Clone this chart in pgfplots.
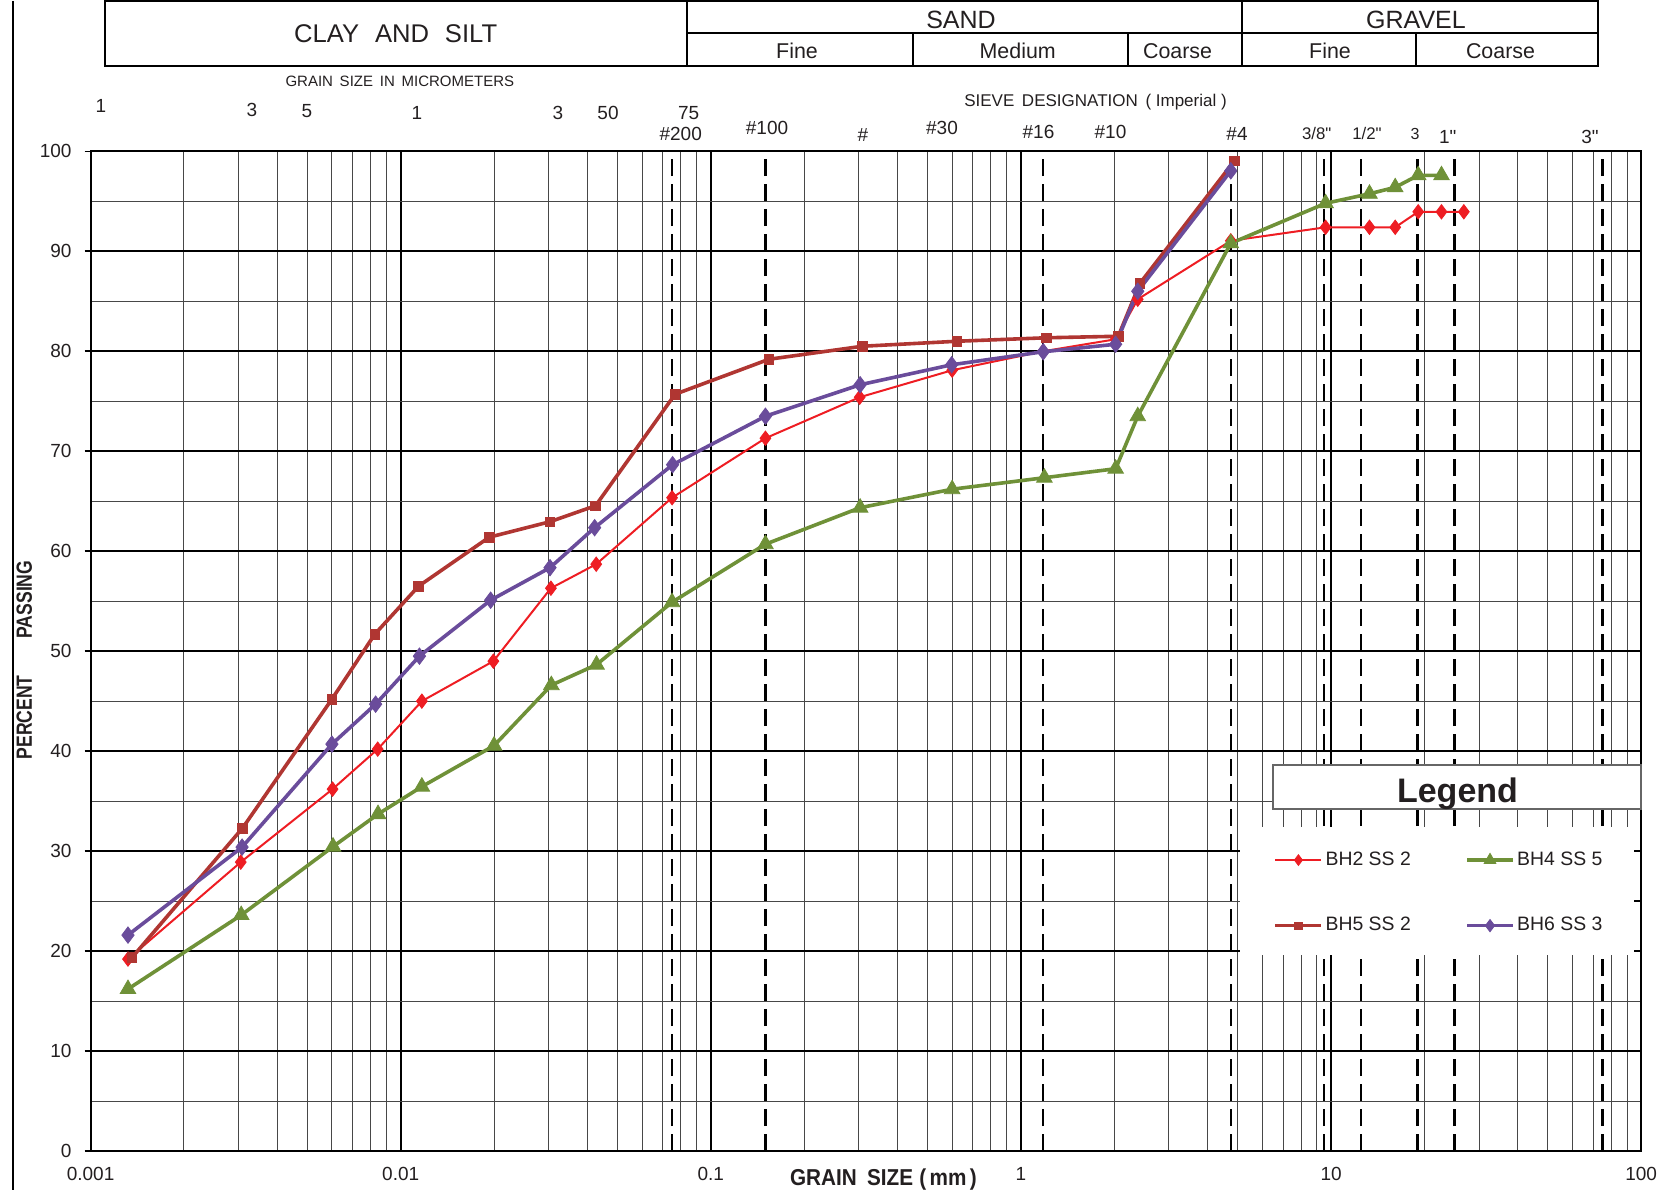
\documentclass[border=0pt]{standalone}
\usepackage{pgfplots}
\pgfplotsset{compat=1.18}
\usepackage{fontspec}
\setmainfont{Liberation Sans}[Ligatures=TeXOff]
\usepackage{graphicx}

\definecolor{cRed}{HTML}{EE1D23}
\definecolor{cBrown}{HTML}{B03632}
\definecolor{cGreen}{HTML}{6F9138}
\definecolor{cPurple}{HTML}{6A4C9B}
\definecolor{txt}{HTML}{231F20}

\newcommand{\fs}[1]{\fontsize{#1}{#1}\selectfont}

\begin{document}
\begin{tikzpicture}
\begin{scope}[x=0.5pt,y=-0.5pt]
\useasboundingbox (0,0) rectangle (1671,1191);
\end{scope}

\begin{axis}[
  at={(45.3pt,-575.5pt)}, anchor=south west,
  scale only axis, width=775.3pt, height=499.85pt,
  xmode=log, xmin=0.001, xmax=100, ymin=0, ymax=100,
  axis line style={black, line width=1pt},
  xtick={0.001,0.01,0.1,1,10,100},
  xticklabels={0.001,0.01,0.1,1,10,100},
  minor xtick={0.002,0.003,0.004,0.005,0.006,0.007,0.008,0.009,
               0.02,0.03,0.04,0.05,0.06,0.07,0.08,0.09,
               0.2,0.3,0.4,0.5,0.6,0.7,0.8,0.9,
               2,3,4,5,6,7,8,9,
               20,30,40,50,60,70,80,90},
  ytick={0,10,20,30,40,50,60,70,80,90,100},
  yticklabels={0,10,20,30,40,50,60,70,80,90,100},
  minor ytick={5,15,25,35,45,55,65,75,85,95},
  grid=both,
  major grid style={black, line width=0.9pt},
  minor grid style={black!72, line width=0.45pt},
  tick align=outside, ytick pos=left, xtick pos=bottom,
  major tick length=3pt, minor tick length=0pt,
  xtick style={draw=none},
  ytick style={black, line width=0.8pt},
  ticklabel style={font=\fs{9.5}, text=txt},
  xticklabel style={yshift=-1.5pt},
  yticklabel style={xshift=-3pt},
  extra x ticks={0.075,0.15,1.18,4.75,9.5,12.5,19,25,75},
  extra x tick labels={},
  extra x tick style={grid=major, major grid style={black, line width=1.1pt, dash pattern=on 8.5pt off 4pt}, major tick length=0pt},
  legend columns=2,
  legend cell align=left,
  legend style={at={(0.7627,0.3017)}, anchor=north west, draw=none, fill=none,
    inner sep=0pt, font=\fs{9.7}, text=txt, row sep=22.5pt,
    nodes={inner xsep=1.2pt, inner ysep=1pt},
    /tikz/every even column/.append style={column sep=26pt}},
  legend image code/.code={\draw[mark repeat=2, mark phase=2, #1, every mark/.append style={scale=0.75}] plot coordinates {(0pt,0pt) (11.5pt,0pt) (23pt,0pt)};},
]

\fill[white] (rel axis cs:0.7414,0.1961) rectangle (rel axis cs:0.9994,0.3244);
\draw[black, line width=0.8pt] (rel axis cs:1,0.20) -- ++(-3.8pt,0pt);
\draw[black, line width=0.8pt] (rel axis cs:1,0.25) -- ++(-3.8pt,0pt);
\draw[black, line width=0.8pt] (rel axis cs:1,0.30) -- ++(-3.8pt,0pt);

% BH2 SS 2
\addplot[color=cRed, line width=1pt, mark=diamond*, mark size=3.6pt,
  mark options={solid, fill=cRed, draw=cRed, line width=0.4pt}] coordinates {
(0.00132,19.2) (0.00305,28.9) (0.00603,36.2) (0.00843,40.2) (0.0117,45.0)
(0.0199,49.0) (0.0305,56.3) (0.0427,58.7) (0.0750,65.35) (0.150,71.3)
(0.302,75.4) (0.600,78.1) (1.18,80.0) (2.02,81.2) (2.38,85.2) (4.75,91.05)
(9.6,92.4) (13.3,92.4) (16.1,92.4) (19.1,93.95) (22.7,93.95) (26.8,93.95)
};
\addlegendentry{BH2 SS 2}

% BH4 SS 5
\addplot[color=cGreen, line width=1.8pt, mark=triangle*, mark size=4.5pt,
  mark options={solid, fill=cGreen, draw=cGreen, line width=0.4pt}] coordinates {
(0.00132,16.2) (0.00306,23.6) (0.00605,30.45) (0.00845,33.7) (0.0117,36.45)
(0.0200,40.55) (0.0306,46.6) (0.0428,48.65) (0.0750,54.9) (0.150,60.7)
(0.303,64.35) (0.600,66.2) (1.19,67.35) (2.02,68.25) (2.38,73.5) (4.75,90.8)
(9.6,94.8) (13.3,95.75) (16.1,96.4) (19.1,97.6) (22.7,97.6)
};
\addlegendentry{BH4 SS 5}

% BH5 SS 2
\addplot[color=cBrown, line width=1.8pt, mark=square*, mark size=2.4pt,
  mark options={solid, fill=cBrown, draw=cBrown, line width=0.4pt}] coordinates {
(0.00136,19.35) (0.00309,32.3) (0.00600,45.2) (0.00825,51.7) (0.01142,56.5)
(0.0193,61.4) (0.0303,62.95) (0.0425,64.55) (0.0767,75.7) (0.154,79.2)
(0.308,80.5) (0.621,81.0) (1.21,81.35) (2.06,81.5) (2.42,86.8) (4.88,99.05)
};
\addlegendentry{BH5 SS 2}

% BH6 SS 3
\addplot[color=cPurple, line width=1.8pt, mark=diamond*, mark size=4.1pt,
  mark options={solid, fill=cPurple, draw=cPurple, line width=0.4pt}] coordinates {
(0.00132,21.6) (0.00308,30.4) (0.00600,40.7) (0.0083,44.7) (0.01149,49.5)
(0.0195,55.1) (0.0303,58.35) (0.0422,62.35) (0.0753,68.65) (0.150,73.5)
(0.303,76.65) (0.598,78.65) (1.18,79.95) (2.02,80.7) (2.38,86.0) (4.75,98.05)
};
\addlegendentry{BH6 SS 3}
\end{axis}

\begin{scope}[x=0.5pt,y=-0.5pt, every node/.style={text=txt, inner sep=0pt, outer sep=0pt}]
% left frame line
\draw[black, line width=0.8pt] (12.7,0.9) -- (12.7,1190.1);
% header table
\draw[black, line width=0.9pt] (104.6,1) rectangle (1598,65.7);
\draw[black, line width=0.9pt] (687,1) -- (687,65.7);
\draw[black, line width=0.9pt] (1241.7,1) -- (1241.7,65.7);
\draw[black, line width=0.9pt] (687,33.3) -- (1598,33.3);
\draw[black, line width=0.9pt] (912.8,33.3) -- (912.8,65.7);
\draw[black, line width=0.9pt] (1127.8,33.3) -- (1127.8,65.7);
\draw[black, line width=0.9pt] (1415.6,33.3) -- (1415.6,65.7);
\node[anchor=base] at (395.7,42) {\fs{12.8}CLAY\hspace{0.62em}AND\hspace{0.62em}SILT};
\node[anchor=base] at (961,28) {\fs{12.5}SAND};
\node[anchor=base] at (1416,28) {\fs{12.5}GRAVEL};
\node[anchor=base] at (797,58) {\fs{10.7}Fine};
\node[anchor=base] at (1017.7,58) {\fs{10.7}Medium};
\node[anchor=base] at (1177.6,58.5) {\fs{10.7}Coarse};
\node[anchor=base] at (1330,58) {\fs{10.7}Fine};
\node[anchor=base] at (1500.5,58.5) {\fs{10.7}Coarse};
% captions
\node[anchor=base] at (399.8,86.7) {\fs{7.5}GRAIN\hspace{0.45em}SIZE\hspace{0.45em}IN\hspace{0.45em}MICROMETERS};
\node[anchor=base] at (1095.5,106) {\fs{8.5}SIEVE\hspace{0.45em}DESIGNATION\hspace{0.45em}(\ Imperial\ )};
% micrometer numbers
\node[anchor=base] at (101,112) {\fs{9.5}1};
\node[anchor=base] at (252,116.7) {\fs{9.5}3};
\node[anchor=base] at (307,117.7) {\fs{9.5}5};
\node[anchor=base] at (417,119.7) {\fs{9.5}1};
\node[anchor=base] at (558,119.7) {\fs{9.5}3};
\node[anchor=base] at (608,119.7) {\fs{9.5}50};
\node[anchor=base] at (688.7,119.7) {\fs{9.5}75};
% sieve labels
\node[anchor=base] at (680.7,140.5) {\fs{9.5}\#200};
\node[anchor=base] at (767,134.5) {\fs{9.5}\#100};
\node[anchor=base] at (863,141) {\fs{9.5}\#};
\node[anchor=base] at (942,134.5) {\fs{9.5}\#30};
\node[anchor=base] at (1038.5,138) {\fs{9.5}\#16};
\node[anchor=base] at (1110.5,138) {\fs{9.5}\#10};
\node[anchor=base] at (1237,140.5) {\fs{9.5}\#4};
\node[anchor=base] at (1316.7,139.5) {\fs{8.4}3/8"};
\node[anchor=base] at (1367,139.5) {\fs{8.4}1/2"};
\node[anchor=base] at (1415,139) {\fs{8}3};
\node[anchor=base] at (1447.7,143) {\fs{9.5}1"};
\node[anchor=base] at (1590,143) {\fs{9.5}3"};
% axis titles
\node[anchor=base] at (883.4,1185) {\scalebox{0.9}[1]{\fs{11.5}\bfseries GRAIN\hspace{0.5em}SIZE\hspace{0.3em}(\,mm\,)}};
\node[rotate=90, anchor=center] at (24.4,660) {\scalebox{0.8}[1]{\fs{11}\bfseries PERCENT\hspace{23pt}PASSING}};
% legend title box
\draw[black!60, line width=0.8pt, fill=white] (1272.7,765) rectangle (1641,809);
\node[anchor=base] at (1457.5,802.5) {\fs{17}\bfseries Legend};
\end{scope}
\end{tikzpicture}
\end{document}
